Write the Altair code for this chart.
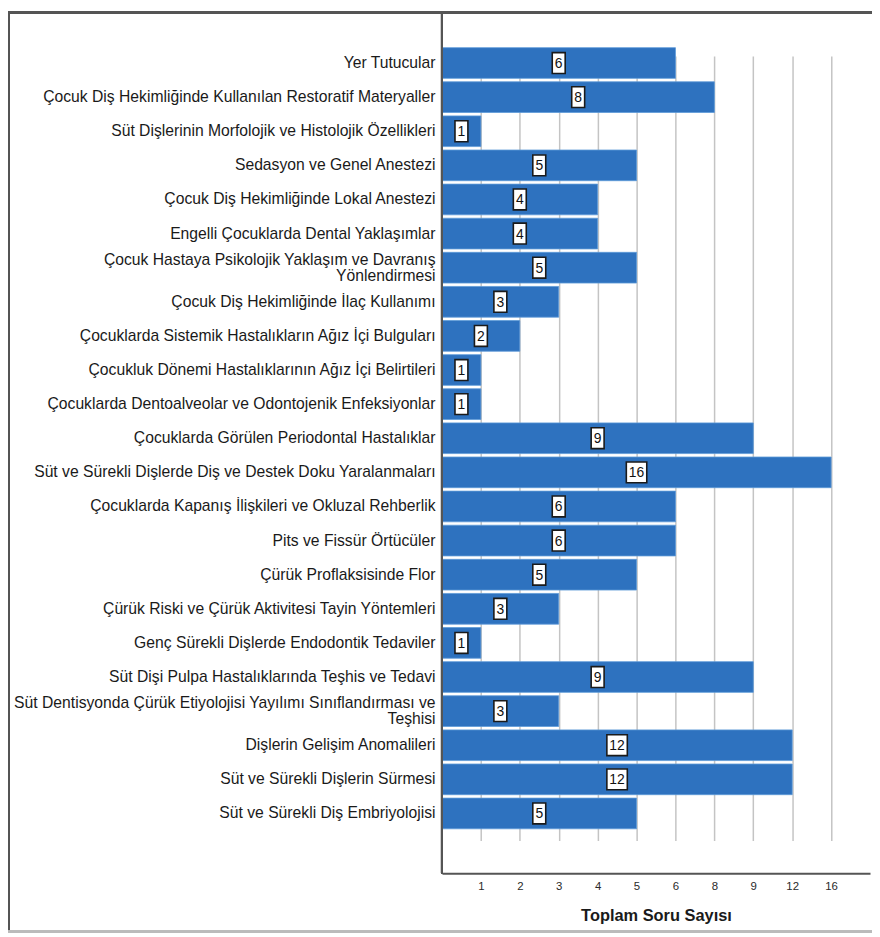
import altair as alt
import pandas as pd

categories = [
    "Yer Tutucular",
    "Çocuk Diş Hekimliğinde Kullanılan Restoratif Materyaller",
    "Süt Dişlerinin Morfolojik ve Histolojik Özellikleri",
    "Sedasyon ve Genel Anestezi",
    "Çocuk Diş Hekimliğinde Lokal Anestezi",
    "Engelli Çocuklarda Dental Yaklaşımlar",
    "Çocuk Hastaya Psikolojik Yaklaşım ve Davranış|Yönlendirmesi",
    "Çocuk Diş Hekimliğinde İlaç Kullanımı",
    "Çocuklarda Sistemik Hastalıkların Ağız İçi Bulguları",
    "Çocukluk Dönemi Hastalıklarının Ağız İçi Belirtileri",
    "Çocuklarda Dentoalveolar ve Odontojenik Enfeksiyonlar",
    "Çocuklarda Görülen Periodontal Hastalıklar",
    "Süt ve Sürekli Dişlerde Diş ve Destek Doku Yaralanmaları",
    "Çocuklarda Kapanış İlişkileri ve Okluzal Rehberlik",
    "Pits ve Fissür Örtücüler",
    "Çürük Proflaksisinde Flor",
    "Çürük Riski ve Çürük Aktivitesi Tayin Yöntemleri",
    "Genç Sürekli Dişlerde Endodontik Tedaviler",
    "Süt Dişi Pulpa Hastalıklarında Teşhis ve Tedavi",
    "Süt Dentisyonda Çürük Etiyolojisi Yayılımı Sınıflandırması ve|Teşhisi",
    "Dişlerin Gelişim Anomalileri",
    "Süt ve Sürekli Dişlerin Sürmesi",
    "Süt ve Sürekli Diş Embriyolojisi",
]
values = [6, 8, 1, 5, 4, 4, 5, 3, 2, 1, 1, 9, 16, 6, 6, 5, 3, 1, 9, 3, 12, 12, 5]
tick_labels = [1, 2, 3, 4, 5, 6, 8, 9, 12, 16]

df = pd.DataFrame({"konu": categories, "value": values})
# ordinal (equally spaced) axis positions, as in the original
df["pos"] = [tick_labels.index(v) + 1 for v in values]

label_array = "['', " + ", ".join(f"'{t}'" for t in tick_labels) + ", '']"

FONT = "Liberation Sans"
W, H = 431, 866

y_scale = alt.Scale(paddingInner=0.1, paddingOuter=0.05, range=[33, 823])

y_enc = alt.Y(
    "konu:N",
    sort=categories,
    title=None,
    scale=y_scale,
    axis=alt.Axis(
        labelExpr="split(datum.label, '|')",
        labelFont=FONT,
        labelFontSize=15.8,
        labelColor="#1a1a1a",
        labelLimit=700,
        labelPadding=7,
        labelLineHeight=16,
        labelOffset={"condition": {"test": "indexof(datum.value, '|') >= 0", "value": -8}, "value": 0},
        ticks=False,
        domain=False,
        grid=False,
    ),
)

x_scale = alt.Scale(domain=[0, 11], nice=False, zero=True)

base = alt.Chart(df)

bars = base.mark_bar(color="#2e72bf", stroke="#5d9ad8", strokeWidth=0.8).encode(
    x=alt.X(
        "pos:Q",
        scale=x_scale,
        title="Toplam Soru Sayısı",
        axis=alt.Axis(
            values=list(range(1, len(tick_labels) + 1)),
            labelExpr=f"{label_array}[datum.value]",
            labelFont=FONT,
            labelFontSize=11.5,
            labelColor="#2a2a2a",
            labelPadding=7,
            ticks=False,
            domainColor="#555555",
            domainWidth=2,
            grid=True,
            gridColor="#c4c4c4",
            gridWidth=1.5,
            titleFont=FONT,
            titleFontSize=16.5,
            titleFontWeight="bold",
            titleColor="#1a1a1a",
            titlePadding=16,
        ),
    ),
    y=y_enc,
)

narrow = "M-0.62,-1 L0.62,-1 L0.62,1 L-0.62,1 Z"
wide = "M-0.98,-1 L0.98,-1 L0.98,1 L-0.98,1 Z"

boxes = base.transform_calculate(mid="datum.pos / 2").mark_point(
    filled=True, fill="white", stroke="#1a1a1a", strokeWidth=1.6, opacity=1, size=441
).encode(
    x=alt.X("mid:Q", scale=x_scale),
    y=alt.Y("konu:N", sort=categories),
    shape=alt.condition("datum.value >= 10", alt.value(wide), alt.value(narrow)),
)

texts = base.transform_calculate(mid="datum.pos / 2").mark_text(
    font=FONT, fontSize=14, color="#111111", baseline="middle", align="center", dy=1
).encode(
    x=alt.X("mid:Q", scale=x_scale),
    y=alt.Y("konu:N", sort=categories),
    text="value:Q",
)

# y axis line spanning the whole plot height
y_domain = base.mark_rule(color="#555555", strokeWidth=2).encode(
    x=alt.value(0), y=alt.value(0), y2=alt.value(H)
)

frame_left = base.mark_rule(color="#555555", strokeWidth=2).encode(
    x=alt.value(-436), y=alt.value(-1), y2=alt.value(926)
)
frame_top = base.mark_rule(color="#555555", strokeWidth=2).encode(
    x=alt.value(-437), x2=alt.value(W + 6), y=alt.value(-1)
)
frame_bottom = base.mark_rule(color="#bbbbbb", strokeWidth=2).encode(
    x=alt.value(-437), x2=alt.value(W + 6), y=alt.value(925)
)

chart = (
    alt.layer(bars, boxes, texts, y_domain, frame_left, frame_top, frame_bottom)
    .properties(
        width=W,
        height=H,
        autosize="none",
        padding={"left": 437, "top": 2, "right": 2, "bottom": 62},
    )
    .configure_view(stroke=None)
)

chart.save("out.html", embed_options={"renderer": "svg", "actions": False})
